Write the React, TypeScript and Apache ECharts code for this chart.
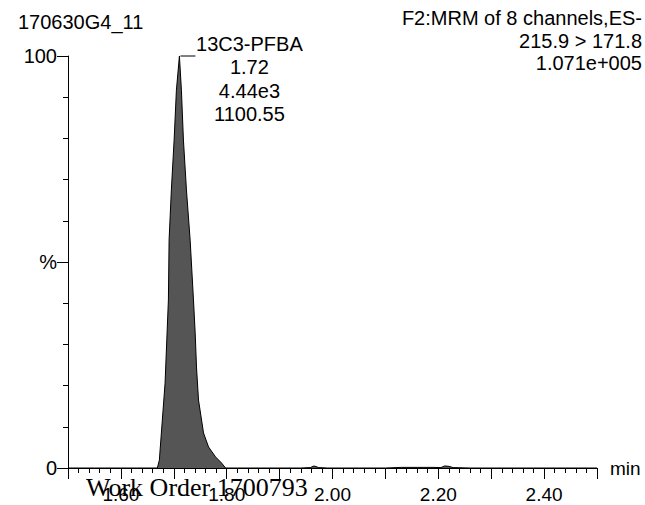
import React, { useEffect, useRef } from "react";
import * as echarts from "echarts";

// Retention time (min) and relative intensity (%)
const times = [
  1.50, 1.55, 1.60, 1.64, 1.6689, 1.6727, 1.6765, 1.6835, 1.6898, 1.6911, 1.6954, 1.7006, 1.7049, 1.7106,
  1.7144, 1.7182, 1.7239, 1.7309, 1.7372, 1.7404, 1.7429, 1.7467, 1.7562, 1.7657, 1.7789, 1.7903, 1.7979,
  1.82, 1.88, 1.94, 1.958, 1.965, 1.974, 1.99, 2.05, 2.10, 2.13, 2.16, 2.19, 2.205, 2.212, 2.22, 2.228,
  2.26, 2.32, 2.38, 2.44, 2.50,
];
const intensity = [
  0, 0, 0, 0, 0, 1.9, 8.5, 20.6, 40.8, 55.3, 67.5, 79.6, 91.7, 100,
  91.7, 79.6, 67.5, 55.3, 40.8, 32.8, 24.5, 16.5, 8.5, 5.1, 2.7, 1.2, 0,
  0, 0, 0, 0.1, 0.5, 0.1, 0, 0, 0, 0.15, 0.15, 0.15, 0.1, 0.5, 0.4, 0.1,
  0, 0, 0, 0, 0,
];

const headerLeft = "170630G4_11";
const headerRight = ["F2:MRM of 8 channels,ES-", "215.9 > 171.8", "1.071e+005"];
const peakLabel = ["13C3-PFBA", "1.72", "4.44e3", "1100.55"];
const apex: [number, number] = [1.7106, 100];
const watermark = "Work Order 1700793";

const SANS = "'Liberation Sans', Arial, sans-serif";
const SERIF = "'Liberation Serif', 'Times New Roman', serif";

export default function App() {
  const ref = useRef<HTMLDivElement>(null);
  useEffect(() => {
    if (!ref.current) return;
    const chart = echarts.init(ref.current, null, { renderer: "svg" });
    const data = times.map((t, i) => [t, intensity[i]]);
    chart.setOption({
      animation: false,
      backgroundColor: "#ffffff",
      grid: { left: 68, right: 48, top: 56, bottom: 37 },
      xAxis: {
        type: "value",
        min: 1.5,
        max: 2.5,
        interval: 0.1,
        name: "min",
        nameLocation: "end",
        nameGap: 13,
        nameTextStyle: { fontSize: 19, color: "#000", fontFamily: SANS, verticalAlign: "middle" },
        axisLine: { show: true, onZero: false, lineStyle: { color: "#000", width: 1 } },
        axisTick: { show: true, inside: false, length: 11, lineStyle: { color: "#000", width: 1 } },
        minorTick: { show: true, splitNumber: 5, length: 5, lineStyle: { color: "#000", width: 1 } },
        splitLine: { show: false },
        axisLabel: {
          fontSize: 19,
          color: "#000",
          fontFamily: SANS,
          margin: 17,
          formatter: (v: number) => (Math.round(v * 10) % 2 === 0 ? v.toFixed(2) : ""),
        },
      },
      yAxis: {
        type: "value",
        min: 0,
        max: 100,
        interval: 50,
        axisLine: { show: true, lineStyle: { color: "#000", width: 1 } },
        axisTick: { show: true, inside: false, length: 11, lineStyle: { color: "#000", width: 1 } },
        minorTick: { show: true, splitNumber: 5, length: 5, lineStyle: { color: "#000", width: 1 } },
        splitLine: { show: false },
        axisLabel: {
          fontSize: 20,
          color: "#000",
          fontFamily: SANS,
          margin: 11,
          formatter: (v: number) => (v === 50 ? "%" : String(v)),
        },
      },
      series: [
        {
          type: "line",
          data,
          symbol: "none",
          smooth: false,
          lineStyle: { color: "#000", width: 1 },
          areaStyle: { color: "#555555", opacity: 1 },
        },
      ],
    });
    const p = chart.convertToPixel({ gridIndex: 0 }, apex) as number[];
    const lx = p[0] + 70;
    chart.setOption({
      graphic: [
        { type: "text", left: 18, top: 12, style: { text: headerLeft, fontSize: 20, fontFamily: SANS, fill: "#000" } },
        ...headerRight.map((t, i) => ({
          type: "text",
          x: 642,
          y: 18 + i * 22.5,
          style: { text: t, fontSize: 20, fontFamily: SANS, fill: "#000", textAlign: "right", textVerticalAlign: "middle" },
        })),
        {
          type: "line",
          shape: { x1: p[0] + 1, y1: p[1], x2: p[0] + 16, y2: p[1] },
          style: { stroke: "#000", lineWidth: 1 },
        },
        ...peakLabel.map((t, i) => ({
          type: "text",
          x: lx,
          y: p[1] - 12 + i * 23.3,
          style: { text: t, fontSize: 20, fontFamily: SANS, fill: "#000", textAlign: "center", textVerticalAlign: "middle" },
        })),
        {
          type: "text",
          x: 86,
          y: 487,
          z: 100,
          style: { text: watermark, fontSize: 26, fontFamily: SERIF, fill: "#000", textVerticalAlign: "middle" },
        },
      ],
    });
    return () => chart.dispose();
  }, []);
  return <div ref={ref} style={{ position: "fixed", left: 0, top: 0, width: 645, height: 505 }} />;
}
